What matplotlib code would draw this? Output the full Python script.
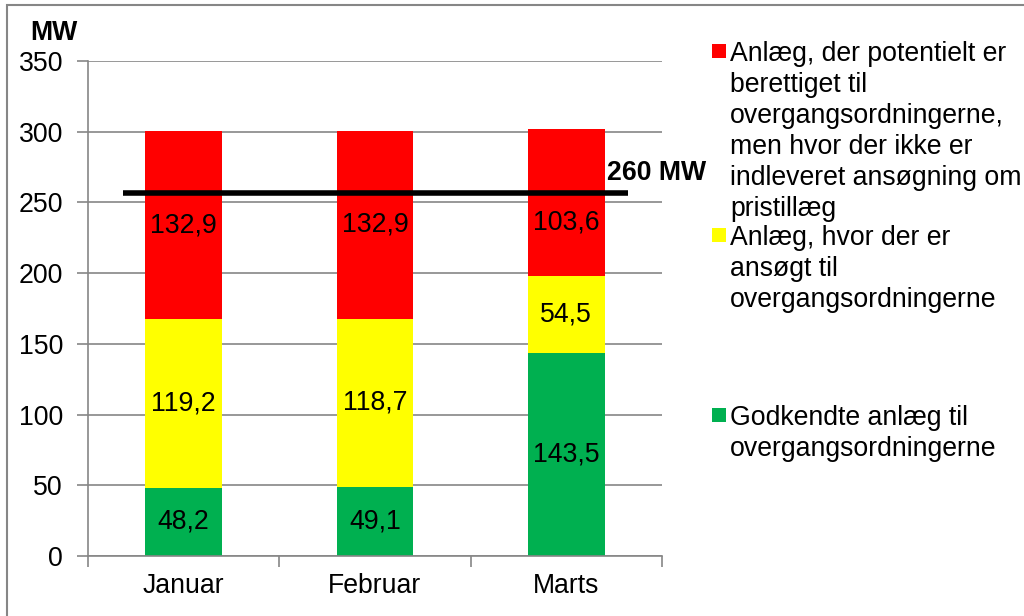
import numpy as np
import matplotlib
matplotlib.use('Agg')
from matplotlib import pyplot as plt
from matplotlib.patches import Rectangle

plt.rcParams['font.family'] = ['Liberation Sans', 'DejaVu Sans']

months = ['Januar', 'Februar', 'Marts']
godkendt = [48.2, 49.1, 143.5]
ansoegt = [119.2, 118.7, 54.5]
potentiel = [132.9, 132.9, 103.6]
limit_mw = 257  # drawn line, labelled 260 MW

labels = ['Anlæg, der potentielt er\nberettiget til\novergangsordningerne,\nmen hvor der ikke er\nindleveret ansøgning om\npristillæg',
          'Anlæg, hvor der er\nansøgt til\novergangsordningerne',
          'Godkendte anlæg til\novergangsordningerne']
colors = ['#FF0000', '#FFFF00', '#00B050']
grey = '#868686'
fs = 19.2

fig = plt.figure(figsize=(10.24, 6.16), dpi=100)
ax = fig.add_axes([88/1024, 1-556/616, (662-88)/1024, (556-61)/616])

x = np.arange(len(months))
g = np.array(godkendt)
a = np.array(ansoegt)
p = np.array(potentiel)
w = 0.40
ax.bar(x, g, w, color=colors[2], zorder=2)
ax.bar(x, a, w, bottom=g, color=colors[1], zorder=2)
ax.bar(x, p, w, bottom=g+a, color=colors[0], zorder=2)

def fmt(v):
    return f'{v:.1f}'.replace('.', ',')

for i in range(len(months)):
    ax.text(x[i], g[i]/2, fmt(g[i]), ha='center', va='center', fontsize=fs, zorder=3)
    ax.text(x[i], g[i]+a[i]/2, fmt(a[i]), ha='center', va='center', fontsize=fs, zorder=3)
    # keep the red label clear of the 260 MW line
    yr = min(g[i]+a[i]+p[i]/2, 236)
    ax.text(x[i], yr, fmt(p[i]), ha='center', va='center', fontsize=fs, zorder=3)

ax.plot([-0.317, 2.323], [limit_mw, limit_mw], color='black', lw=4, zorder=4, solid_capstyle='butt')
ax.text(2.213, 271, '260 MW', fontsize=fs, fontweight='bold', ha='left', va='center')

ax.set_xlim(-0.5, 2.5)
ax.set_ylim(0, 350)
ax.set_yticks(range(0, 351, 50))
ax.yaxis.grid(True, color=grey, lw=1.2, zorder=0)
ax.set_axisbelow(True)
ax.set_xticks(x)
ax.set_xticklabels(months, fontsize=fs)
ax.set_xticks([-0.5, 0.5, 1.5, 2.5], minor=True)
ax.tick_params(axis='x', which='major', length=0, pad=12)
ax.tick_params(axis='x', which='minor', length=8, color=grey, width=1.2)
ax.tick_params(axis='y', length=8, color=grey, width=1.2, labelsize=fs, pad=10)
for s in ['top', 'right']:
    ax.spines[s].set_visible(False)
for s in ['left', 'bottom']:
    ax.spines[s].set_color(grey)
    ax.spines[s].set_linewidth(1.2)

fig.text(30/1024, 1-33/616, 'MW', fontsize=fs, fontweight='bold', ha='left', va='center')

# legend drawn by hand
tops = [41, 225, 405]
for lab, c, t in zip(labels, colors, tops):
    fig.patches.append(Rectangle((712/1024, 1-(t+17)/616), 14/1024, 14/616, transform=fig.transFigure,
                                 facecolor=c, edgecolor='none'))
    fig.text(730/1024, 1-t/616, lab, fontsize=fs, ha='left', va='top', linespacing=1.25)

# outer frame
fig.patches.append(Rectangle((7/1024, -0.1), 1.2, 1.1-5/616, transform=fig.transFigure,
                             facecolor='none', edgecolor=grey, lw=1.5))

fig.savefig('out.png', dpi=100)
